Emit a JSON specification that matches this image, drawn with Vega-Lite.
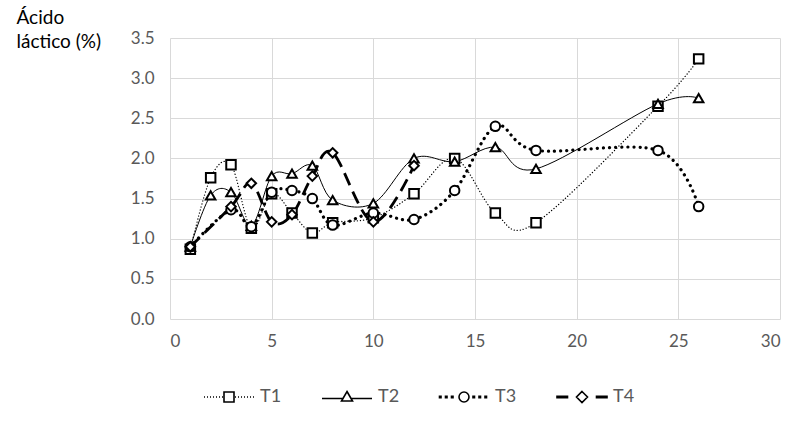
{
  "$schema": "https://vega.github.io/schema/vega-lite/v6.json",
  "width": 610,
  "height": 281,
  "autosize": {"type": "none"},
  "padding": {"left": 170, "top": 38, "right": 28, "bottom": 104},
  "background": "white",
  "config": {
    "font": "Lato",
    "view": {"stroke": null},
    "axis": {"labelFont": "Lato", "labelColor": "#595959", "labelFontSize": 17, "gridColor": "#d9d9d9", "gridWidth": 1, "domain": false, "ticks": false}
  },
  "data": {
    "values": [
      {"series": "T1", "x": 1, "y": 0.87}, {"series": "T1", "x": 2, "y": 1.76}, {"series": "T1", "x": 3, "y": 1.92}, {"series": "T1", "x": 4, "y": 1.13}, {"series": "T1", "x": 5, "y": 1.56}, {"series": "T1", "x": 6, "y": 1.32}, {"series": "T1", "x": 7, "y": 1.07}, {"series": "T1", "x": 8, "y": 1.2}, {"series": "T1", "x": 10, "y": 1.26}, {"series": "T1", "x": 12, "y": 1.56}, {"series": "T1", "x": 14, "y": 2.0}, {"series": "T1", "x": 16, "y": 1.32}, {"series": "T1", "x": 18, "y": 1.2}, {"series": "T1", "x": 24, "y": 2.65}, {"series": "T1", "x": 26, "y": 3.24},
      {"series": "T2", "x": 1, "y": 0.9}, {"series": "T2", "x": 2, "y": 1.54}, {"series": "T2", "x": 3, "y": 1.58}, {"series": "T2", "x": 4, "y": 1.16}, {"series": "T2", "x": 5, "y": 1.78}, {"series": "T2", "x": 6, "y": 1.81}, {"series": "T2", "x": 7, "y": 1.91}, {"series": "T2", "x": 8, "y": 1.48}, {"series": "T2", "x": 10, "y": 1.44}, {"series": "T2", "x": 12, "y": 2.0}, {"series": "T2", "x": 14, "y": 1.96}, {"series": "T2", "x": 16, "y": 2.14}, {"series": "T2", "x": 18, "y": 1.87}, {"series": "T2", "x": 24, "y": 2.68}, {"series": "T2", "x": 26, "y": 2.75},
      {"series": "T3", "x": 1, "y": 0.9}, {"series": "T3", "x": 3, "y": 1.36}, {"series": "T3", "x": 4, "y": 1.15}, {"series": "T3", "x": 5, "y": 1.58}, {"series": "T3", "x": 6, "y": 1.6}, {"series": "T3", "x": 7, "y": 1.5}, {"series": "T3", "x": 8, "y": 1.17}, {"series": "T3", "x": 10, "y": 1.32}, {"series": "T3", "x": 12, "y": 1.24}, {"series": "T3", "x": 14, "y": 1.6}, {"series": "T3", "x": 16, "y": 2.4}, {"series": "T3", "x": 18, "y": 2.1}, {"series": "T3", "x": 24, "y": 2.1}, {"series": "T3", "x": 26, "y": 1.4},
      {"series": "T4", "x": 1, "y": 0.9}, {"series": "T4", "x": 3, "y": 1.4}, {"series": "T4", "x": 4, "y": 1.69}, {"series": "T4", "x": 5, "y": 1.21}, {"series": "T4", "x": 6, "y": 1.3}, {"series": "T4", "x": 7, "y": 1.78}, {"series": "T4", "x": 8, "y": 2.07}, {"series": "T4", "x": 10, "y": 1.21}, {"series": "T4", "x": 12, "y": 1.91}
    ]
  },
  "encoding": {
    "x": {"field": "x", "type": "quantitative", "scale": {"domain": [0, 30], "nice": false, "zero": false}, "axis": {"values": [0, 5, 10, 15, 20, 25, 30], "title": null, "labelPadding": 14, "grid": true}},
    "y": {"field": "y", "type": "quantitative", "scale": {"domain": [0, 3.5], "nice": false}, "axis": {"values": [0, 0.5, 1, 1.5, 2, 2.5, 3, 3.5], "format": ".1f", "labelPadding": 16, "grid": true, "title": ["Ácido", "láctico (%)"], "titleFont": "Lato", "titleFontSize": 19, "titleFontWeight": "normal", "titleColor": "#000000", "titleAngle": 0, "titleAlign": "left", "titleBaseline": "top", "titleX": -154, "titleY": -30, "titleLineHeight": 24}}
  },
  "resolve": {"scale": {"shape": "independent"}, "legend": {"shape": "independent"}},
  "layer": [
    {
      "transform": [{"filter": "datum.series === 'T1'"}],
      "mark": {"type": "line", "interpolate": "cardinal", "tension": 0, "color": "black", "strokeCap": "round", "strokeWidth": 1.3, "strokeDash": [0.1, 3]},
      "encoding": {}
    },
    {
      "transform": [{"filter": "datum.series === 'T2'"}],
      "mark": {"type": "line", "interpolate": "cardinal", "tension": 0, "color": "black", "strokeWidth": 1},
      "encoding": {}
    },
    {
      "transform": [{"filter": "datum.series === 'T3'"}],
      "mark": {"type": "line", "interpolate": "cardinal", "tension": 0, "color": "black", "strokeCap": "round", "strokeWidth": 3.2, "strokeDash": [0.1, 6]},
      "encoding": {}
    },
    {
      "transform": [{"filter": "datum.series === 'T4'"}],
      "mark": {"type": "line", "interpolate": "cardinal", "tension": 0, "color": "black", "strokeWidth": 2.8, "strokeDash": [13, 7]},
      "encoding": {}
    },
    {
      "mark": {"type": "point", "filled": true, "fill": "white", "stroke": "black", "strokeWidth": 2, "size": 90, "opacity": 1},
      "encoding": {
        "shape": {"field": "series", "type": "nominal", "scale": {"domain": ["T1", "T2", "T3", "T4"], "range": ["square", "triangle-up", "circle", "diamond"]}, "legend": null}
      }
    },
    {
      "transform": [{"filter": "false"}],
      "mark": {"type": "point", "filled": false, "color": "black", "strokeWidth": 1.6, "opacity": 1},
      "encoding": {
        "shape": {"field": "series", "type": "nominal",
          "scale": {"domain": ["T1", "T2", "T3", "T4"], "range": [
            "M-1,0h0.04M-0.88,0h0.04M-0.76,0h0.04M-0.64,0h0.04M-0.52,0h0.04M-0.4,0h0.04M-0.28,0h0.04M0.24,0h0.04M0.36,0h0.04M0.48,0h0.04M0.6,0h0.04M0.72,0h0.04M0.84,0h0.04M0.96,0h0.04M-0.2,-0.2H0.2V0.2H-0.2Z",
            "M-1,0.06H-0.16M0.16,0.06H1M0,-0.22L0.22,0.16H-0.22Z",
            "M-0.98,-0.03h0.06v0.06h-0.06ZM-0.74,-0.03h0.06v0.06h-0.06ZM-0.5,-0.03h0.06v0.06h-0.06ZM0.36,-0.03h0.06v0.06h-0.06ZM0.6,-0.03h0.06v0.06h-0.06ZM0.84,-0.03h0.06v0.06h-0.06ZM0.2,0A0.2,0.2,0,1,1,-0.2,0A0.2,0.2,0,1,1,0.2,0Z",
            "M-1,-0.03H-0.58V0.03H-1ZM0.58,-0.03H1V0.03H0.58ZM0,-0.22L0.22,0L0,0.22L-0.22,0Z"
          ]},
          "legend": {
            "title": null,
            "orient": "none",
            "legendX": 33,
            "legendY": 333,
            "direction": "horizontal",
            "symbolSize": 2500,
            "symbolStrokeWidth": 1.6,
            "symbolStrokeColor": "black",
            "symbolOpacity": 1,
            "labelOffset": 5,
            "columnPadding": 36,
            "labelFont": "Lato",
            "labelFontSize": 18,
            "labelColor": "#595959"
          }
        }
      }
    }
  ]
}
